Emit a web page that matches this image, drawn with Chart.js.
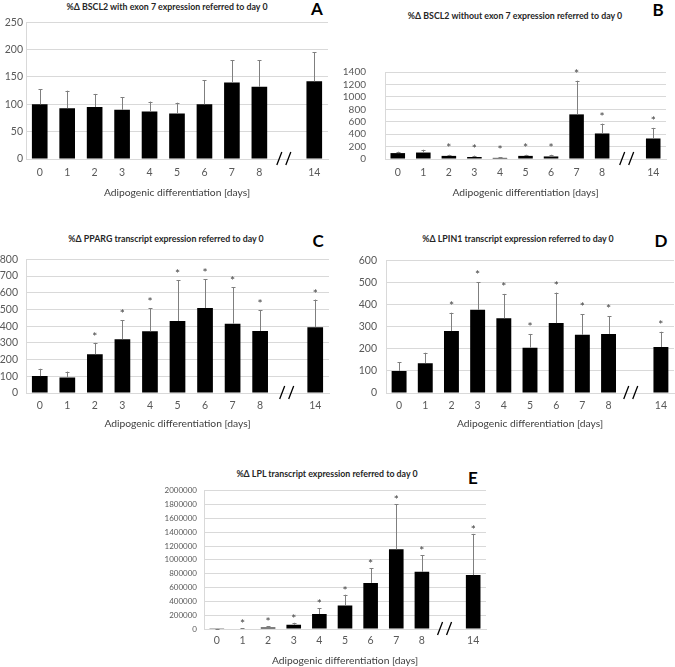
<!DOCTYPE html>
<html>
<head>
<meta charset="utf-8">
<script src="https://cdn.jsdelivr.net/npm/chart.js@4.4.1/dist/chart.umd.min.js"></script>
<style>
  body { margin: 0; background: #fff; width: 675px; height: 667px; position: relative; overflow: hidden; font-family: Lato, sans-serif; }
  canvas { position: absolute; }
  .ttl { position: absolute; transform: translate(-50%, -50%); font: bold 8.8px Lato, sans-serif; color: #262626; white-space: nowrap; }
  .ltr { position: absolute; transform: translate(-50%, -50%); font: bold 17px Lato, sans-serif; color: #000; }
</style>
</head>
<body>
<div class="ttl" style="left:167px;top:6px">%Δ BSCL2 with exon 7 expression referred to day 0</div>
<div class="ltr" style="left:317px;top:8px">A</div>
<div class="ttl" style="left:515px;top:15px">%Δ BSCL2 without exon 7 expression referred to day 0</div>
<div class="ltr" style="left:658px;top:9px">B</div>
<div class="ttl" style="left:166px;top:238px">%Δ PPARG transcript expression referred to day 0</div>
<div class="ltr" style="left:318px;top:240px">C</div>
<div class="ttl" style="left:518px;top:238px">%Δ LPIN1 transcript expression referred to day 0</div>
<div class="ltr" style="left:661px;top:240px">D</div>
<div class="ttl" style="left:327px;top:473px">%Δ LPL transcript expression referred to day 0</div>
<div class="ltr" style="left:473px;top:477px">E</div>

<canvas id="chartA" width="335" height="186" style="left:0px;top:13px"></canvas>
<canvas id="chartB" width="335" height="152" style="left:340px;top:47px"></canvas>
<canvas id="chartC" width="335" height="185" style="left:0px;top:245px"></canvas>
<canvas id="chartD" width="335" height="185" style="left:340px;top:245px"></canvas>
<canvas id="chartE" width="340" height="188" style="left:150px;top:479px"></canvas>

<script>
// days measured; the axis has an empty slot (the "//" break) between 8 and 14
const days = ['0', '1', '2', '3', '4', '5', '6', '7', '8', '14'];
const breakAfter = 8; // index of day 8

// A: BSCL2 with exon 7
const bscl2ExonMean = [100, 93, 95, 90, 87, 83, 100, 140, 132, 142];
const bscl2ExonSd = [28, 32, 24, 23, 18, 20, 44, 41, 49, 53];
const bscl2ExonSig = [0, 0, 0, 0, 0, 0, 0, 0, 0, 0];

// B: BSCL2 without exon 7
const bscl2NoExonMean = [95, 104, 50, 32, 18, 50, 41, 718, 411, 330];
const bscl2NoExonSd = [22, 45, 18, 22, 14, 18, 27, 542, 158, 171];
const bscl2NoExonSig = [0, 0, 1, 1, 1, 1, 1, 1, 1, 1];

// C: PPARG
const ppargMean = [101, 92, 232, 322, 369, 431, 509, 415, 371, 394];
const ppargSd = [44, 36, 68, 114, 138, 243, 172, 217, 125, 165];
const ppargSig = [0, 0, 1, 1, 1, 1, 1, 1, 1, 1];

// D: LPIN1
const lpin1Mean = [100, 135, 280, 376, 338, 205, 316, 263, 267, 208];
const lpin1Sd = [38, 47, 83, 124, 110, 62, 138, 92, 79, 69];
const lpin1Sig = [0, 0, 1, 1, 1, 1, 1, 1, 1, 1];

// E: LPL
const lplMean = [3000, 6000, 20000, 61000, 217000, 340000, 667000, 1153000, 827000, 780000];
const lplSd = [1000, 2000, 18000, 29000, 81000, 156000, 213000, 653000, 242000, 596000];
const lplSig = [0, 1, 1, 1, 1, 1, 1, 1, 1, 1];

const xTitle = 'Adipogenic differentiation [days]';
const labelColor = '#595959';
const gridColor = '#d9d9d9';

// insert the empty break slot
function withGap(arr, fill) {
  return arr.slice(0, breakAfter + 1).concat([fill], arr.slice(breakAfter + 1));
}

// upper error bars, asterisks and the "//" break mark
const decorations = {
  id: 'decorations',
  afterDatasetsDraw(chart, args, opts) {
    const { ctx, chartArea } = chart;
    const yScale = chart.scales.y;
    const xScale = chart.scales.x;
    const meta = chart.getDatasetMeta(0);
    const data = chart.data.datasets[0].data;
    const sd = opts.sd;
    const sig = opts.sig;
    ctx.save();
    meta.data.forEach((bar, i) => {
      const v = data[i];
      if (v === null) return;
      const yTop = yScale.getPixelForValue(v + sd[i]);
      const yBar = yScale.getPixelForValue(v);
      const bx = Math.round(bar.x) + 0.5;
      ctx.strokeStyle = '#7f7f7f';
      ctx.lineWidth = 1;
      ctx.beginPath();
      ctx.moveTo(bx, yBar);
      ctx.lineTo(bx, yTop);
      ctx.moveTo(bx - 2, Math.round(yTop) + 0.5);
      ctx.lineTo(bx + 2, Math.round(yTop) + 0.5);
      ctx.stroke();
      if (sig[i]) {
        ctx.fillStyle = '#404040';
        ctx.font = '12px Lato, sans-serif';
        ctx.textAlign = 'center';
        ctx.textBaseline = 'alphabetic';
        ctx.fillText('*', bar.x, yTop - opts.starOff + 7);
      }
    });
    // break mark
    const gx = xScale.getPixelForValue(breakAfter + 1) + opts.breakShift;
    const yb = chartArea.bottom;
    ctx.strokeStyle = '#000';
    ctx.lineWidth = 1.3;
    ctx.beginPath();
    ctx.moveTo(gx - 8, yb + 6);
    ctx.lineTo(gx - 3, yb - 7);
    ctx.moveTo(gx + 1, yb + 6);
    ctx.lineTo(gx + 6, yb - 7);
    ctx.stroke();
    ctx.restore();
  }
};

function makePanel(id, mean, sd, sig, cfg) {
  const tickFont = { family: 'Lato', size: 10.5 };
  return new Chart(document.getElementById(id), {
    type: 'bar',
    data: {
      labels: withGap(days, ''),
      datasets: [{
        data: withGap(mean, null),
        backgroundColor: '#000',
        borderWidth: 0,
        barPercentage: 1,
        categoryPercentage: 0.57,
      }],
    },
    options: {
      responsive: false,
      animation: false,
      layout: { padding: { top: cfg.padTop, right: cfg.padRight, left: 0, bottom: 0 } },
      plugins: {
        legend: { display: false },
        tooltip: { enabled: false },
        decorations: { sd: withGap(sd, 0), sig: withGap(sig, 0), starOff: cfg.starOff, breakShift: cfg.breakShift },
      },
      scales: {
        x: {
          grid: { display: false, drawTicks: false },
          border: { color: gridColor },
          ticks: { font: tickFont, color: labelColor, padding: cfg.xTickPad, maxRotation: 0, autoSkip: false },
          title: { display: true, text: xTitle, font: { family: 'Lato', size: 10.3 }, color: '#404040', padding: 0 },
          afterFit: (s) => { s.height = cfg.xH; },
        },
        y: {
          min: 0,
          max: cfg.max,
          grid: { color: gridColor, drawTicks: false },
          border: { color: gridColor },
          ticks: {
            stepSize: cfg.step,
            autoSkip: false,
            font: { family: 'Lato', size: cfg.yFont || 10.5 },
            color: labelColor,
            padding: cfg.yTickPad,
            callback: (v) => String(v),
          },
          afterFit: (s) => { s.width = cfg.yw; },
        },
      },
    },
    plugins: [decorations],
  });
}

makePanel('chartA', bscl2ExonMean, bscl2ExonSd, bscl2ExonSig,
  { max: 250, step: 50, padTop: 8, padRight: 7, yw: 26, yTickPad: 3, xTickPad: 7, xH: 40, starOff: 10, breakShift: -2 });
makePanel('chartB', bscl2NoExonMean, bscl2NoExonSd, bscl2NoExonSig,
  { max: 1400, step: 200, padTop: 8, padRight: 9, yw: 45, yTickPad: 19, xTickPad: 7, xH: 40, starOff: 10, breakShift: 0, yFont: 10 });
makePanel('chartC', ppargMean, ppargSd, ppargSig,
  { max: 800, step: 100, padTop: 8, padRight: 6, yw: 26, yTickPad: 8, xTickPad: 6, xH: 37, starOff: 9, breakShift: 0 });
makePanel('chartD', lpin1Mean, lpin1Sd, lpin1Sig,
  { max: 600, step: 100, padTop: 8, padRight: 1, yw: 46, yTickPad: 9, xTickPad: 6, xH: 37, starOff: 10, breakShift: -3 });
makePanel('chartE', lplMean, lplSd, lplSig,
  { max: 2000000, step: 200000, padTop: 8, padRight: 4, yw: 54, yTickPad: 7, xTickPad: 5, xH: 38, starOff: 7, breakShift: -2, yFont: 8 });
</script>
</body>
</html>
